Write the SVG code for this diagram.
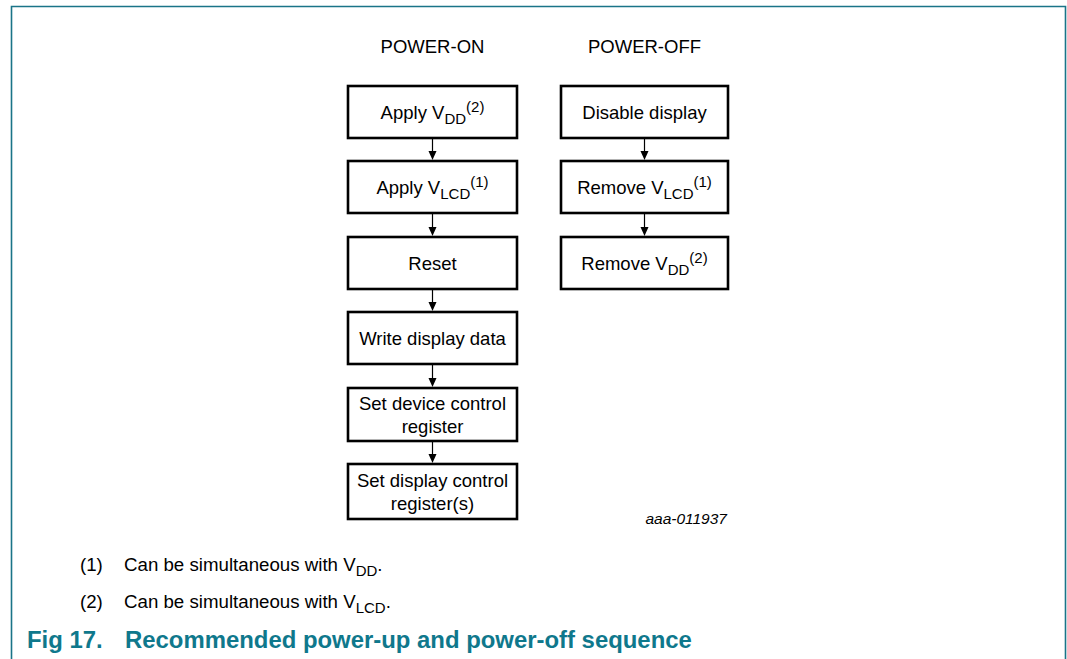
<svg xmlns="http://www.w3.org/2000/svg" width="1067" height="659" viewBox="0 0 1067 659">
<style>
.box{fill:#fff;stroke:#000;stroke-width:2.6}
.t{font-family:"Liberation Sans",Arial,sans-serif;font-size:18.5px;fill:#000;text-anchor:middle}
.s{font-size:15px}
.fn{font-family:"Liberation Sans",Arial,sans-serif;font-size:18.7px;fill:#000}
.cap{font-family:"Liberation Sans",Arial,sans-serif;font-size:23.9px;font-weight:bold;fill:#0f788c}
.ln{stroke:#000;stroke-width:1.2}
.hd{fill:#000}
</style>
<rect width="1067" height="659" fill="#fff"/>
<g id="frame" fill="none" stroke="#1a7488" stroke-width="1.6">
<path d="M11.5,659 V6.5 H1065.5 V659"/>
</g>
<g id="headers">
<text class="t" x="432.5" y="53">POWER-ON</text>
<text class="t" x="644.5" y="53">POWER-OFF</text>
</g>
<g id="connectors">
<line class="ln" x1="432.5" y1="138" x2="432.5" y2="152"/>
<path class="hd" d="M428.5,151 L436.5,151 L432.5,160 Z"/>
<line class="ln" x1="432.5" y1="213" x2="432.5" y2="228"/>
<path class="hd" d="M428.5,227 L436.5,227 L432.5,236 Z"/>
<line class="ln" x1="432.5" y1="289" x2="432.5" y2="303"/>
<path class="hd" d="M428.5,302 L436.5,302 L432.5,311 Z"/>
<line class="ln" x1="432.5" y1="364" x2="432.5" y2="379"/>
<path class="hd" d="M428.5,378 L436.5,378 L432.5,387 Z"/>
<line class="ln" x1="432.5" y1="441" x2="432.5" y2="455"/>
<path class="hd" d="M428.5,454 L436.5,454 L432.5,463 Z"/>
<line class="ln" x1="644.5" y1="138" x2="644.5" y2="152"/>
<path class="hd" d="M640.5,151 L648.5,151 L644.5,160 Z"/>
<line class="ln" x1="644.5" y1="213" x2="644.5" y2="228"/>
<path class="hd" d="M640.5,227 L648.5,227 L644.5,236 Z"/>
</g>
<g id="n1"><rect class="box" x="348" y="86" width="169" height="52"/>
<text class="t" x="432.5" y="119">Apply V<tspan class="s" dy="5">DD</tspan><tspan class="s" dy="-12">(2)</tspan></text></g>
<g id="n2"><rect class="box" x="348" y="161" width="169" height="52"/>
<text class="t" x="432.5" y="194">Apply V<tspan class="s" dy="5">LCD</tspan><tspan class="s" dy="-12">(1)</tspan></text></g>
<g id="n3"><rect class="box" x="348" y="237" width="169" height="52"/>
<text class="t" x="432.5" y="270">Reset</text></g>
<g id="n4"><rect class="box" x="348" y="312" width="169" height="52"/>
<text class="t" x="432.5" y="345">Write display data</text></g>
<g id="n5"><rect class="box" x="348" y="388" width="169" height="53"/>
<text class="t" x="432.5" y="410">Set device control</text>
<text class="t" x="432.5" y="433">register</text></g>
<g id="n6"><rect class="box" x="348" y="464" width="169" height="55"/>
<text class="t" x="432.5" y="487">Set display control</text>
<text class="t" x="432.5" y="510">register(s)</text></g>
<g id="m1"><rect class="box" x="561" y="86" width="167" height="52"/>
<text class="t" x="644.5" y="119">Disable display</text></g>
<g id="m2"><rect class="box" x="561" y="161" width="167" height="52"/>
<text class="t" x="644.5" y="194">Remove V<tspan class="s" dy="5">LCD</tspan><tspan class="s" dy="-12">(1)</tspan></text></g>
<g id="m3"><rect class="box" x="561" y="237" width="167" height="52"/>
<text class="t" x="644.5" y="270">Remove V<tspan class="s" dy="5">DD</tspan><tspan class="s" dy="-12">(2)</tspan></text></g>
<g id="ref"><text x="727" y="524" font-family="'Liberation Sans',Arial,sans-serif" font-size="15.5" font-style="italic" text-anchor="end">aaa-011937</text></g>
<g id="notes">
<text class="fn" x="80" y="571">(1)</text>
<text class="fn" x="124" y="571">Can be simultaneous with V<tspan class="s" dy="5">DD</tspan><tspan dy="-5">.</tspan></text>
<text class="fn" x="80" y="608">(2)</text>
<text class="fn" x="124" y="608">Can be simultaneous with V<tspan class="s" dy="5">LCD</tspan><tspan dy="-5">.</tspan></text>
</g>
<g id="caption">
<text class="cap" x="27" y="648">Fig 17.</text>
<text class="cap" x="125" y="648">Recommended power-up and power-off sequence</text>
</g>
</svg>
